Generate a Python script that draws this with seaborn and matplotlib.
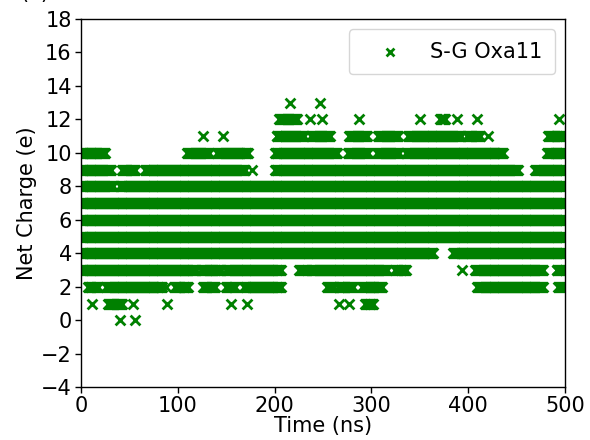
import numpy as np
import pandas as pd
import matplotlib
matplotlib.use("Agg")
import matplotlib.pyplot as plt
import seaborn as sns

# Occupancy of each net-charge state along the trajectory:
# charge level, first and last time (ns) of each stretch where it is visited.
seg_charge = [13, 13,
              12, 12, 12, 12, 12, 12, 12, 12, 12,
              11, 11, 11, 11, 11, 11, 11, 11, 11, 11,
              10, 10, 10, 10, 10, 10, 10, 10,
              9, 9, 9, 9, 9, 9,
              8, 8,
              7, 6, 5,
              4, 4,
              3, 3, 3, 3, 3, 3, 3, 3, 3,
              2, 2, 2, 2, 2, 2, 2, 2, 2, 2, 2, 2,
              1, 1, 1, 1, 1, 1, 1, 1, 1,
              0, 0]
seg_start = [216, 247,
             205, 237, 249, 287, 350, 371, 388, 409, 494,
             126, 147, 202, 238, 277, 307, 338, 399, 420, 482,
             0, 110, 141, 200, 276, 306, 336, 481,
             0, 43, 66, 177, 200, 469,
             0, 40,
             0, 0, 0,
             0, 384,
             0, 124, 150, 225, 238, 324, 393, 407, 491,
             7, 26, 88, 97, 126, 150, 168, 254, 266, 290, 409, 493,
             12, 28, 54, 89, 155, 172, 266, 277, 293,
             40, 56]
seg_end = [216, 247,
           223, 237, 249, 287, 350, 376, 388, 409, 494,
           126, 147, 230, 257, 295, 327, 392, 412, 420, 498,
           25, 132, 173, 264, 296, 328, 436, 500,
           31, 56, 169, 177, 451, 500,
           33, 500,
           500, 500, 500,
           364, 500,
           119, 145, 207, 233, 316, 336, 393, 477, 500,
           18, 84, 88, 111, 138, 159, 207, 261, 281, 311, 477, 500,
           12, 42, 54, 89, 155, 172, 266, 277, 302,
           40, 56]

frame_step = 1.0  # ns between saved frames

times, charges = [], []
for q, t0, t1 in zip(seg_charge, seg_start, seg_end):
    t = np.arange(t0, t1 + frame_step / 2, frame_step)
    times.append(t)
    charges.append(np.full(t.shape, q))
df = pd.DataFrame({"Time (ns)": np.concatenate(times),
                   "Net Charge (e)": np.concatenate(charges)})

sns.set_theme(style="ticks")
plt.rcParams["font.family"] = ["DejaVu Sans"]
plt.rcParams.update({"text.color": "black", "axes.labelcolor": "black",
                     "xtick.color": "black", "ytick.color": "black"})

fig = plt.figure(figsize=(5.9, 4.4), dpi=100)
ax = fig.add_axes([0.137, 0.120, 0.821, 0.837])

sns.scatterplot(data=df, x="Time (ns)", y="Net Charge (e)", marker="x",
                color="green", s=50, linewidth=2.0, label="S-G Oxa11", ax=ax)

ax.set_xlim(0, 500)
ax.set_ylim(-4, 18)
ax.set_xticks(np.arange(0, 501, 100))
ax.set_yticks(np.arange(-4, 19, 2))
ax.tick_params(labelsize=15, direction="out", length=4, width=1, colors="black",
               pad=2.5)
ax.set_xlabel("Time (ns)", fontsize=15, labelpad=0)
ax.set_ylabel("Net Charge (e)", fontsize=15, labelpad=3)
for sp in ax.spines.values():
    sp.set_visible(True)
    sp.set_color("black")
    sp.set_linewidth(1)

ax.legend(loc="upper right", fontsize=15, frameon=True, markerscale=0.8,
          handlelength=2.8, handletextpad=0.5, borderpad=0.6)

fig.text(0.035, 0.993, "(a)", fontsize=15, va="bottom", ha="left")

fig.savefig("out.png", dpi=100)
